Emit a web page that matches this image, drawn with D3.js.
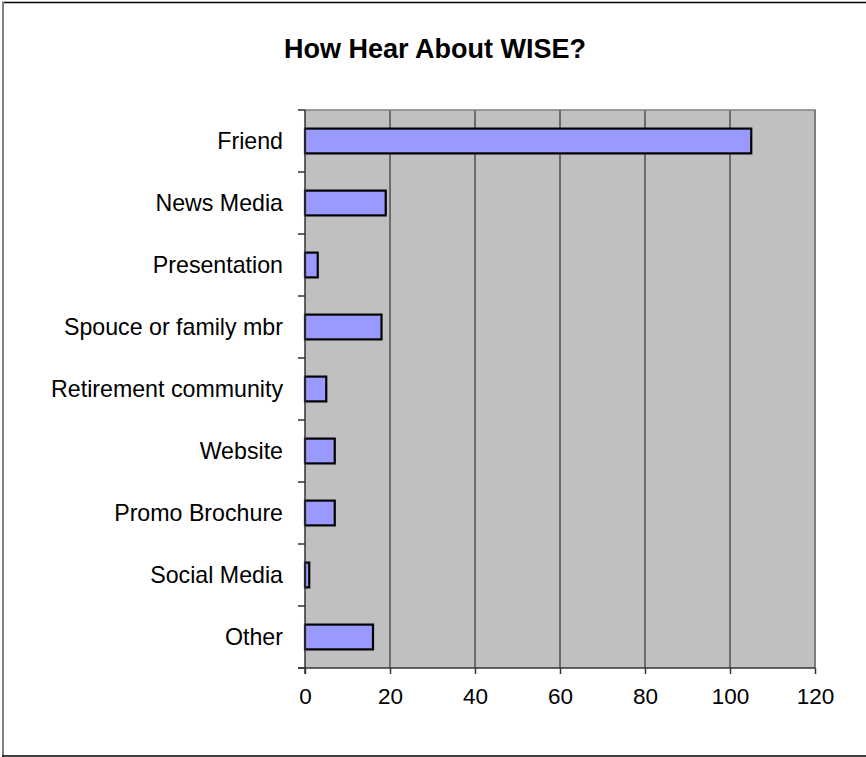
<!DOCTYPE html>
<html><head><meta charset="utf-8">
<script src="https://cdn.jsdelivr.net/npm/d3@7"></script>
<style>html,body{margin:0;padding:0;background:#fff;} svg{display:block;}</style>
</head><body>
<script>
const categories = ["Friend","News Media","Presentation","Spouce or family mbr","Retirement community","Website","Promo Brochure","Social Media","Other"];
const values = [105,19,3,18,5,7,7,1,16];
const xTicks = [0,20,40,60,80,100,120];
const title = "How Hear About WISE?";

const W = 866, H = 757;
const svg = d3.select("body").append("svg").attr("width", W).attr("height", H);
const font = "'Liberation Sans', Arial, sans-serif";

// outer frame
svg.append("line").attr("x1",2).attr("x2",866).attr("y1",2.5).attr("y2",2.5).attr("stroke","#000").attr("stroke-width",1.5);
svg.append("line").attr("x1",3).attr("x2",3).attr("y1",2).attr("y2",756).attr("stroke","#808080").attr("stroke-width",2);
svg.append("line").attr("x1",2).attr("x2",866).attr("y1",756).attr("y2",756).attr("stroke","#000").attr("stroke-width",1.5);

const L = 305, R = 815, T = 110, B = 668;
const x = d3.scaleLinear().domain([0,120]).range([L,R]);
const y = d3.scaleBand().domain(categories).range([T,B]).paddingInner(0.6).paddingOuter(0.3);

// plot background
svg.append("rect").attr("x",L).attr("y",T).attr("width",R-L).attr("height",B-T).attr("fill","#C0C0C0");

// gridlines
svg.append("g").selectAll("line").data(xTicks.filter(d=>d>0)).join("line")
  .attr("x1",d=>x(d)).attr("x2",d=>x(d)).attr("y1",T).attr("y2",B)
  .attr("stroke","#505050").attr("stroke-width",1.5);
// plot border top/right
svg.append("path").attr("d",`M${L},${T}H${R}V${B}`).attr("fill","none").attr("stroke","#808080").attr("stroke-width",1.5);

// bars
svg.append("g").selectAll("rect").data(values).join("rect")
  .attr("x",x(0)).attr("y",(d,i)=>y(categories[i]))
  .attr("width",d=>x(d)-x(0)).attr("height",y.bandwidth())
  .attr("fill","#9999FF").attr("stroke","#000").attr("stroke-width",2.2);

// y axis: line + boundary ticks
const bounds = d3.range(categories.length+1).map(i=>T + i*(B-T)/categories.length);
svg.append("line").attr("x1",L).attr("x2",L).attr("y1",T).attr("y2",B+6).attr("stroke","#333").attr("stroke-width",1.5);
svg.append("g").selectAll("line").data(bounds).join("line")
  .attr("x1",L-7).attr("x2",L).attr("y1",d=>d).attr("y2",d=>d).attr("stroke","#333").attr("stroke-width",1.5);
svg.append("g").selectAll("text").data(categories).join("text")
  .attr("x",283).attr("y",d=>y(d)+y.bandwidth()/2).attr("dy","0.35em")
  .attr("text-anchor","end").attr("font-family",font).attr("font-size",23.2).attr("fill","#000").text(d=>d);

// x axis
const xAxis = d3.axisBottom(x).tickValues(xTicks).tickSize(6).tickPadding(14);
const gx = svg.append("g").attr("transform",`translate(0,${B})`).call(xAxis);
gx.select(".domain").attr("d",`M${L-7},0H${R}`).attr("stroke","#333").attr("stroke-width",1.5);
gx.selectAll(".tick line").attr("stroke","#333").attr("stroke-width",1.5);
gx.selectAll(".tick text").attr("font-family",font).attr("font-size",22.5).attr("fill","#000");

// title
svg.append("text").attr("x",435).attr("y",58).attr("text-anchor","middle")
  .attr("font-family",font).attr("font-weight","bold").attr("font-size",27).attr("fill","#000").text(title);
</script>
</body></html>
